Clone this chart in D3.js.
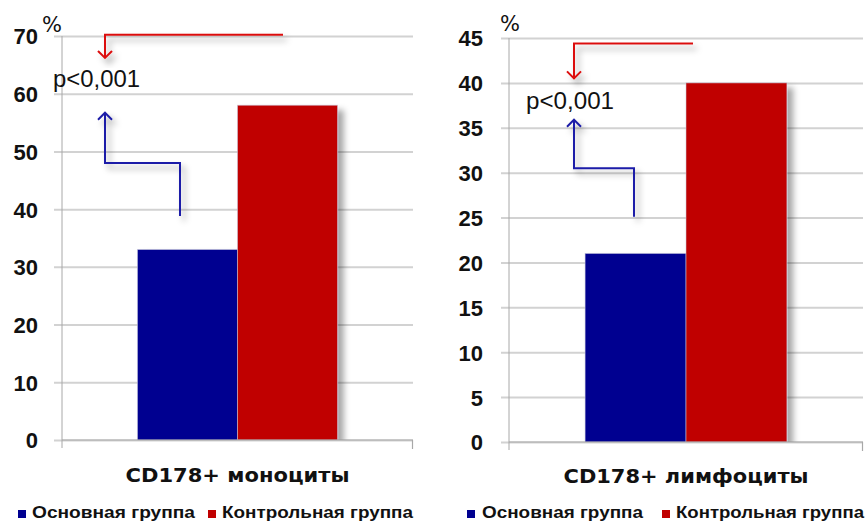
<!DOCTYPE html>
<html>
<head>
<meta charset="utf-8">
<script src="https://cdn.jsdelivr.net/npm/d3@7"></script>
<style>
  html, body { margin: 0; padding: 0; background: #ffffff; }
  svg { display: block; }
</style>
</head>
<body>
<svg id="chart" width="867" height="524"></svg>
<script>
// Share of CD178+ cells, % — two panels, two groups each
const categories = ["CD178+ моноциты", "CD178+ лимфоциты"];
const seriesNames = ["Основная группа", "Контрольная группа"];
const mainGroup = [33, 21];
const controlGroup = [58, 40];
const yMaxValues = [70, 45];
const yStepValues = [10, 5];
const pLabels = ["p<0,001", "p<0,001"];

const colors = { main: "#000090", control: "#c00000", arrowMain: "#1c1ca8", arrowControl: "#dc1010" };

// Panel frames and annotation anchors (arrow y-values are in axis units)
const panels = [
  { x0: 62, x1: 413, yTop: 36, yBottom: 440, labelGap: 24, catWidth: 224, catBaseline: 482,
    pctX: 42, pctY: 32, pX: 53, pW: 87, pV: 61.1,
    red: { xs: 221, xe: 43, y1: 70.2, y2: 66.2 },
    blue: { xs: 118, xe: 43, y1: 38.8, y2: 48.0, y3: 56.7 },
    legend: [{ sq: 18, tx: 32, tw: 163 }, { sq: 208, tx: 222, tw: 191 }] },
  { x0: 509, x1: 863, yTop: 38, yBottom: 442, labelGap: 26, catWidth: 245, catBaseline: 483,
    pctX: 500, pctY: 31, pX: 526, pW: 88, pV: 37.1,
    red: { xs: 184, xe: 65, y1: 44.4, y2: 40.5 },
    blue: { xs: 125, xe: 65, y1: 25.1, y2: 30.5, y3: 35.9 },
    legend: [{ sq: 467, tx: 482, tw: 161 }, { sq: 662, tx: 676, tw: 188 }] }
];

const svg = d3.select("#chart");
const defs = svg.append("defs");

const barShadow = defs.append("filter").attr("id", "barShadow")
  .attr("x", "-20%").attr("y", "-20%").attr("width", "150%").attr("height", "150%");
barShadow.append("feDropShadow").attr("dx", 6).attr("dy", 5).attr("stdDeviation", 3)
  .attr("flood-color", "#000").attr("flood-opacity", 0.35);

const lineShadow = defs.append("filter").attr("id", "lineShadow")
  .attr("x", "-30%").attr("y", "-30%").attr("width", "170%").attr("height", "170%");
lineShadow.append("feDropShadow").attr("dx", 4).attr("dy", 5).attr("stdDeviation", 3)
  .attr("flood-color", "#000").attr("flood-opacity", 0.35);

const tickFont = "'Liberation Sans', Arial, sans-serif";
const textFont = "'DejaVu Sans', 'Liberation Sans', sans-serif";

// Fit a text to a target width: shrink the font if it is too wide, stretch if narrower
function fitText(sel, width) {
  const node = sel.node();
  let fs = parseFloat(sel.attr("font-size"));
  let w = node.getComputedTextLength();
  if (w > width) {
    fs = fs * width / w;
    sel.attr("font-size", fs.toFixed(2));
    w = node.getComputedTextLength();
  }
  if (w < width) sel.attr("textLength", width).attr("lengthAdjust", "spacingAndGlyphs");
  return sel;
}

panels.forEach((p, i) => {
  const g = svg.append("g");
  const y = d3.scaleLinear().domain([0, yMaxValues[i]]).range([p.yBottom, p.yTop]);
  const band = p.x1 - p.x0;
  const groupW = band * 0.57;
  const x = d3.scaleBand().domain([categories[i]]).range([p.x0, p.x1])
    .paddingInner(0).paddingOuter((band / groupW - 1) / 2);
  const xs = d3.scaleBand().domain(seriesNames).range([0, x.bandwidth()]).padding(0);

  // Gridlines and y labels via axis
  const ticks = d3.range(0, yMaxValues[i] + 0.001, yStepValues[i]);
  const yAxis = d3.axisLeft(y).tickValues(ticks).tickSize(-(p.x1 - p.x0)).tickPadding(0).tickFormat(d3.format("d"));
  const ya = g.append("g").attr("transform", `translate(${p.x0},0)`).call(yAxis);
  ya.select(".domain").remove();
  ya.selectAll(".tick line").attr("stroke", "#d2d2d2").attr("stroke-width", 2).attr("x1", -8);
  ya.selectAll(".tick text").attr("x", -p.labelGap).attr("dy", "0.36em")
    .attr("font-family", tickFont).attr("font-weight", "bold").attr("font-size", 22).attr("fill", "#111");

  // Vertical axis line
  g.append("line").attr("x1", p.x0).attr("x2", p.x0).attr("y1", p.yTop).attr("y2", p.yBottom + 8)
    .attr("stroke", "#a8a8a8").attr("stroke-width", 1);

  // Bars
  const clipId = "clip" + i;
  defs.append("clipPath").attr("id", clipId).append("rect")
    .attr("x", p.x0).attr("y", 0).attr("width", p.x1 - p.x0 + 20).attr("height", p.yBottom);
  const barsG = g.append("g").attr("clip-path", `url(#${clipId})`);
  const values = [mainGroup[i], controlGroup[i]];
  const fills = [colors.main, colors.control];
  barsG.selectAll("rect").data(seriesNames).join("rect")
    .attr("x", d => x(categories[i]) + xs(d))
    .attr("width", xs.bandwidth())
    .attr("y", (d, k) => y(values[k]))
    .attr("height", (d, k) => y(0) - y(values[k]))
    .attr("fill", (d, k) => fills[k])
    .attr("stroke", "rgba(200,200,220,0.55)").attr("stroke-width", 1)
    .attr("filter", "url(#barShadow)");

  // X axis baseline with end ticks
  g.append("line").attr("x1", p.x0).attr("x2", p.x1).attr("y1", p.yBottom).attr("y2", p.yBottom)
    .attr("stroke", "#a8a8a8").attr("stroke-width", 1.2);
  g.append("line").attr("x1", p.x1 - 0.5).attr("x2", p.x1 - 0.5).attr("y1", p.yBottom).attr("y2", p.yBottom + 9)
    .attr("stroke", "#a8a8a8").attr("stroke-width", 1.2);

  // Category label
  fitText(g.append("text").attr("x", x(categories[i]) + x.bandwidth() / 2).attr("y", p.catBaseline)
    .attr("text-anchor", "middle").attr("font-family", textFont).attr("font-weight", "bold")
    .attr("font-size", 20).attr("fill", "#111")
    .text(categories[i]), p.catWidth);

  // Unit sign
  g.append("text").attr("x", p.pctX).attr("y", p.pctY).attr("font-family", textFont)
    .attr("font-size", 21).attr("fill", "#111").text("%");

  // Significance annotation
  const ax = v => p.x0 + v;
  const head = 7;
  const redPath = `M${ax(p.red.xs)},${y(p.red.y1)} H${ax(p.red.xe)} V${y(p.red.y2)}`
    + ` M${ax(p.red.xe) - head},${y(p.red.y2) - head} L${ax(p.red.xe)},${y(p.red.y2)} L${ax(p.red.xe) + head},${y(p.red.y2) - head}`;
  const bluePath = `M${ax(p.blue.xs)},${y(p.blue.y1)} V${y(p.blue.y2)} H${ax(p.blue.xe)} V${y(p.blue.y3)}`
    + ` M${ax(p.blue.xe) - head},${y(p.blue.y3) + head} L${ax(p.blue.xe)},${y(p.blue.y3)} L${ax(p.blue.xe) + head},${y(p.blue.y3) + head}`;
  g.append("path").attr("d", redPath).attr("fill", "none").attr("stroke", colors.arrowControl)
    .attr("stroke-width", 2).attr("filter", "url(#lineShadow)");
  g.append("path").attr("d", bluePath).attr("fill", "none").attr("stroke", colors.arrowMain)
    .attr("stroke-width", 2).attr("filter", "url(#lineShadow)");

  fitText(g.append("text").attr("x", p.pX).attr("y", y(p.pV)).attr("font-family", tickFont)
    .attr("font-size", 23).attr("fill", "#111")
    .text(pLabels[i]), p.pW);

  // Legend
  const lg = g.append("g");
  p.legend.forEach((L, k) => {
    lg.append("rect").attr("x", L.sq).attr("y", 510).attr("width", 8).attr("height", 8).attr("fill", fills[k]);
    fitText(lg.append("text").attr("x", L.tx).attr("y", 518).attr("font-family", tickFont).attr("font-weight", "bold")
      .attr("font-size", 17).attr("fill", "#111")
      .text(seriesNames[k]), L.tw);
  });
});
</script>
</body>
</html>
